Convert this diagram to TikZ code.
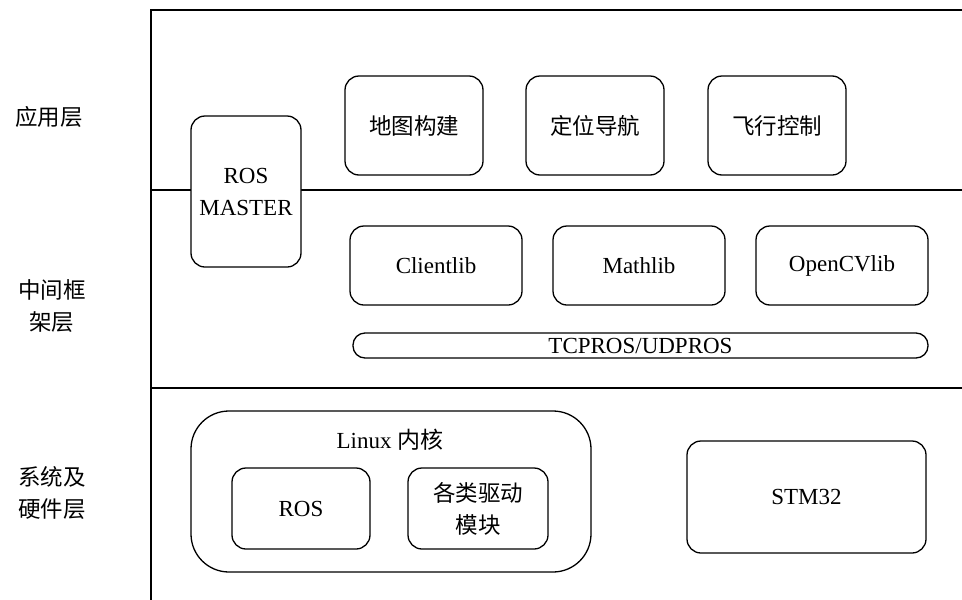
\documentclass[tikz,border=0pt]{standalone}
\usepackage{fontspec}
\setmainfont{Liberation Serif}
\newfontfamily\cjk{Noto Sans CJK SC}
\newcommand\cjkf{\cjk\fontsize{22.5}{32}\selectfont}
\newcommand\latf{\fontsize{23}{32}\selectfont}
\begin{document}
\begin{tikzpicture}[x=1pt,y=-1pt,
  box/.style={draw, line width=1.3pt, rounded corners=14pt, fill=white, align=center, inner sep=0pt},
  layer/.style={line width=1.6pt},
  side/.style={font=\cjkf, align=center, inner sep=0pt}]
\useasboundingbox (0,0) rectangle (962,600);
% layer frame
\draw[layer] (962,10) -- (151,10) -- (151,600);
\draw[layer] (151,190) -- (962,190);
\draw[layer] (151,388) -- (962,388);
% side labels
\node[side] (app) at (49,117) {应用层};
\node[side] (mid) at (52,306) {中间框\\架层};
\node[side] (sys) at (52,493) {系统及\\硬件层};
% application layer
\node[box, minimum width=138pt, minimum height=99pt, font=\cjkf] (map) at (414,125.5) {地图构建};
\node[box, minimum width=138pt, minimum height=99pt, font=\cjkf] (nav) at (595,125.5) {定位导航};
\node[box, minimum width=138pt, minimum height=99pt, font=\cjkf] (fly) at (777,125.5) {飞行控制};
% ROS master
\node[box, minimum width=110pt, minimum height=151pt, font=\latf] (master) at (246,191.5) {ROS\\MASTER};
% middle layer
\node[box, minimum width=172pt, minimum height=79pt, font=\latf] (client) at (436,265.5) {Clientlib};
\node[box, minimum width=172pt, minimum height=79pt, font=\latf] (math) at (639,265.5) {Mathlib};
\node[box, minimum width=172pt, minimum height=79pt, font=\latf] (cv) at (842,265.5) {OpenCVlib};
\node[box, rounded corners=12pt, minimum width=575pt, minimum height=25pt, font=\latf] (tcp) at (640.5,345.5) {TCPROS/UDPROS};
% system layer
\node[box, rounded corners=38pt, minimum width=400pt, minimum height=161pt] (linux) at (391,491.5) {};
\node[font=\latf, inner sep=0pt] (linuxlbl) at (390,440) {Linux {\cjk 内核}};
\node[box, minimum width=138pt, minimum height=81pt, font=\latf] (ros) at (301,508.5) {ROS};
\node[box, minimum width=140pt, minimum height=81pt, font=\cjkf] (drv) at (478,508.5) {各类驱动\\模块};
\node[box, minimum width=239pt, minimum height=112pt, font=\latf] (stm) at (806.5,497) {STM32};
\end{tikzpicture}
\end{document}
